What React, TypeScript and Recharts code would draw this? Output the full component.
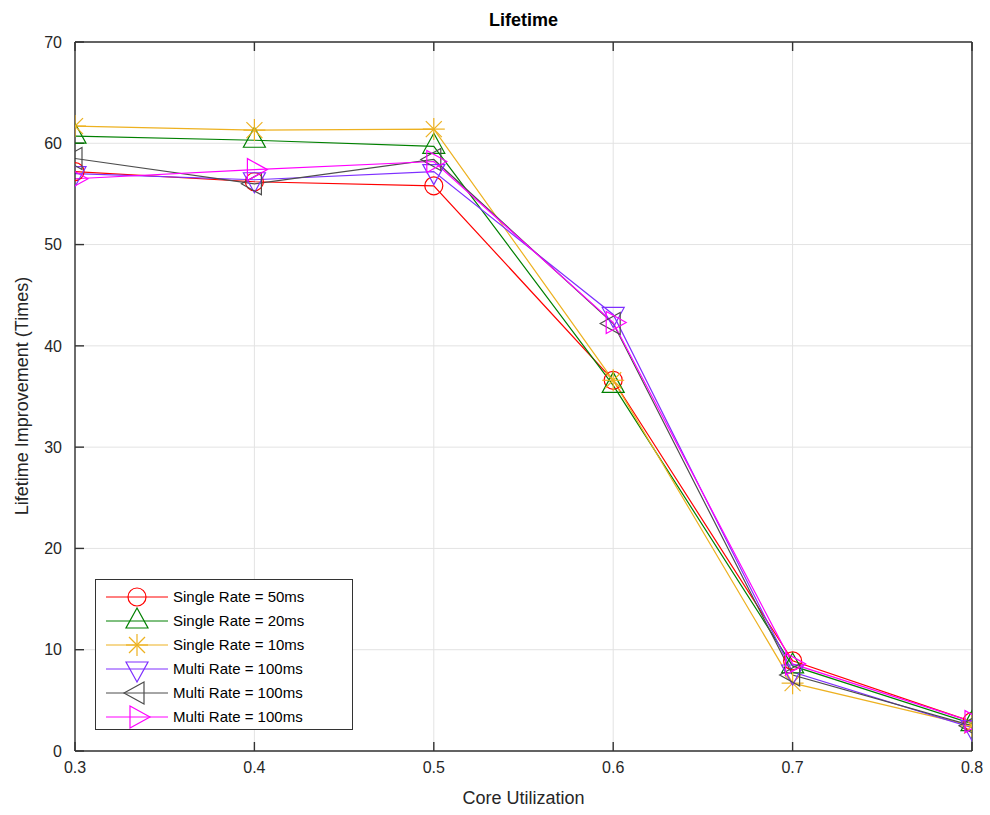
import { LineChart, Line, XAxis, YAxis, CartesianGrid } from "recharts";

const utilization = [0.3, 0.4, 0.5, 0.6, 0.7, 0.8];
const single50 = [57.2, 56.2, 55.8, 36.6, 8.9, 2.9];
const single20 = [60.7, 60.3, 59.7, 36.1, 8.4, 2.7];
const single10 = [61.7, 61.3, 61.4, 36.6, 6.7, 2.5];
const multiA = [57.0, 56.4, 57.2, 43.1, 7.8, 2.3];
const multiB = [58.5, 56.0, 58.4, 42.2, 7.5, 2.5];
const multiC = [56.5, 57.4, 58.2, 42.3, 8.6, 2.9];
const xTicks = [0.3, 0.4, 0.5, 0.6, 0.7, 0.8];
const yTicks = [0, 10, 20, 30, 40, 50, 60, 70];

type Shape = "circle" | "up" | "star" | "down" | "left" | "right";

const series: { key: string; name: string; color: string; shape: Shape; values: number[] }[] = [
  { key: "s50", name: "Single Rate = 50ms", color: "#ff0000", shape: "circle", values: single50 },
  { key: "s20", name: "Single Rate = 20ms", color: "#008000", shape: "up", values: single20 },
  { key: "s10", name: "Single Rate = 10ms", color: "#edb120", shape: "star", values: single10 },
  { key: "mA", name: "Multi Rate = 100ms", color: "#7e2fff", shape: "down", values: multiA },
  { key: "mB", name: "Multi Rate = 100ms", color: "#4d4d4d", shape: "left", values: multiB },
  { key: "mC", name: "Multi Rate = 100ms", color: "#ff00ff", shape: "right", values: multiC },
];

const data = utilization.map((u, i) => {
  const row: Record<string, number> = { u };
  series.forEach((s) => (row[s.key] = s.values[i]));
  return row;
});

const FONT = '"Liberation Sans", Arial, Helvetica, sans-serif';
const AXIS = "#333333";

function Marker({ cx, cy, shape, color }: { cx: number; cy: number; shape: Shape; color: string }) {
  const p = { fill: "none", stroke: color, strokeWidth: 1.2 };
  switch (shape) {
    case "circle":
      return <circle cx={cx} cy={cy} r={9} {...p} />;
    case "up":
      return <polygon points={`${cx},${cy - 13} ${cx - 11},${cy + 7} ${cx + 11},${cy + 7}`} {...p} />;
    case "down":
      return <polygon points={`${cx},${cy + 13} ${cx - 11},${cy - 7} ${cx + 11},${cy - 7}`} {...p} />;
    case "left":
      return <polygon points={`${cx - 13},${cy} ${cx + 7},${cy - 11} ${cx + 7},${cy + 11}`} {...p} />;
    case "right":
      return <polygon points={`${cx + 13},${cy} ${cx - 7},${cy - 11} ${cx - 7},${cy + 11}`} {...p} />;
    default:
      return (
        <g {...p}>
          <line x1={cx - 11} y1={cy} x2={cx + 11} y2={cy} />
          <line x1={cx} y1={cy - 11} x2={cx} y2={cy + 11} />
          <line x1={cx - 8} y1={cy - 8} x2={cx + 8} y2={cy + 8} />
          <line x1={cx - 8} y1={cy + 8} x2={cx + 8} y2={cy - 8} />
        </g>
      );
  }
}

function LegendBox() {
  return (
    <div
      style={{
        position: "absolute",
        left: 95,
        top: 579,
        width: 256,
        height: 149,
        border: `1px solid ${AXIS}`,
        background: "#fff",
        fontFamily: FONT,
        fontSize: 15,
        color: "#000",
      }}
    >
      {series.map((s, i) => (
        <div key={s.key} style={{ position: "absolute", left: 0, top: 5 + i * 24, height: 24, width: 256 }}>
          <svg width={75} height={24} style={{ position: "absolute", left: 0, top: 0, overflow: "visible" }}>
            <line x1={10} y1={12} x2={72} y2={12} stroke={s.color} strokeWidth={1} />
            <Marker cx={41} cy={12} shape={s.shape} color={s.color} />
          </svg>
          <span style={{ position: "absolute", left: 77, top: 3, whiteSpace: "nowrap" }}>{s.name}</span>
        </div>
      ))}
    </div>
  );
}

export default function App() {
  return (
    <div style={{ position: "absolute", left: 0, top: 0, width: 990, height: 815, background: "#fff", fontFamily: FONT }}>
      <LineChart
        width={990}
        height={815}
        data={data}
        margin={{ top: 41, right: 17, bottom: 24, left: 35 }}
      >
        <CartesianGrid stroke="#e3e3e3" horizontalValues={yTicks} verticalValues={xTicks} />
        <XAxis
          dataKey="u"
          type="number"
          domain={[0.3, 0.8]}
          ticks={xTicks}
          tickFormatter={(v: number) => v.toFixed(1)}
          stroke={AXIS}
          strokeWidth={1.4}
          tickSize={-9}
          tickMargin={20}
          height={40}
          tick={{ fill: "#262626", fontSize: 16, fontFamily: FONT }}
          allowDataOverflow
        />
        <XAxis
          xAxisId="top"
          orientation="top"
          dataKey="u"
          type="number"
          domain={[0.3, 0.8]}
          ticks={xTicks}
          tickFormatter={() => ""}
          stroke={AXIS}
          strokeWidth={1.4}
          tickSize={-9}
          height={1}
        />
        <YAxis
          domain={[0, 70]}
          ticks={yTicks}
          stroke={AXIS}
          strokeWidth={1.4}
          tickSize={-9}
          tickMargin={22}
          width={40}
          tick={{ fill: "#262626", fontSize: 16, fontFamily: FONT }}
          allowDataOverflow
        />
        <YAxis
          yAxisId="right"
          orientation="right"
          domain={[0, 70]}
          ticks={yTicks}
          tickFormatter={() => ""}
          stroke={AXIS}
          strokeWidth={1.4}
          tickSize={-9}
          width={1}
        />
        {series.map((s) => (
          <Line
            key={s.key}
            dataKey={s.key}
            name={s.name}
            stroke={s.color}
            strokeWidth={1.2}
            type="linear"
            isAnimationActive={false}
            dot={(props: any) => (
              <Marker key={`${s.key}-${props.index}`} cx={props.cx} cy={props.cy} shape={s.shape} color={s.color} />
            )}
            activeDot={false}
          />
        ))}
      </LineChart>
      <LegendBox />
      <div style={{ position: "absolute", left: 75, width: 897, top: 10, textAlign: "center", fontWeight: "bold", fontSize: 18, color: "#000" }}>
        Lifetime
      </div>
      <div style={{ position: "absolute", left: 75, width: 897, top: 788, textAlign: "center", fontSize: 18, color: "#262626" }}>
        Core Utilization
      </div>
      <div
        style={{
          position: "absolute",
          left: 22,
          top: 396,
          transform: "translate(-50%, -50%) rotate(-90deg)",
          whiteSpace: "nowrap",
          fontSize: 18,
          color: "#262626",
        }}
      >
        Lifetime Improvement (Times)
      </div>
    </div>
  );
}
